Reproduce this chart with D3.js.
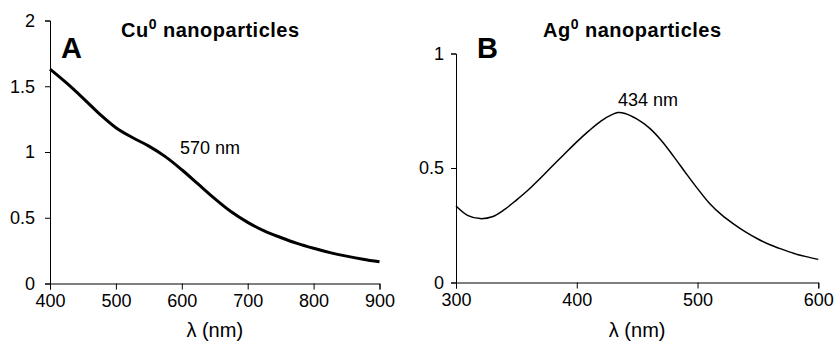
<!DOCTYPE html>
<html>
<head>
<meta charset="utf-8">
<script src="https://cdn.jsdelivr.net/npm/d3@7"></script>
<style>
  body { margin: 0; background: #fff; }
  svg text { font-family: "Liberation Sans", Arial, sans-serif; fill: #000; }
  .axis path, .axis line { stroke: #000; stroke-width: 1; }
  .axis text { font-size: 18px; }
</style>
</head>
<body>
<svg id="chart" width="834" height="343"></svg>
<script>
// Panel A: Cu0 nanoparticles, absorbance vs wavelength
const cuWavelength = [400, 425, 450, 475, 500, 525, 550, 575, 600, 625, 650, 675, 700, 725, 750, 775, 800, 825, 850, 875, 900];
const cuAbsorbance = [1.63, 1.525, 1.41, 1.29, 1.185, 1.11, 1.045, 0.965, 0.865, 0.755, 0.645, 0.545, 0.465, 0.40, 0.35, 0.305, 0.268, 0.235, 0.208, 0.185, 0.165];
const cuXTicks = [400, 500, 600, 700, 800, 900];
const cuYTicks = [0, 0.5, 1, 1.5, 2];

// Panel B: Ag0 nanoparticles
const agWavelength = [300, 310, 320, 330, 340, 350, 360, 370, 380, 390, 400, 410, 420, 430, 434, 440, 450, 460, 470, 480, 490, 500, 510, 520, 530, 540, 550, 560, 570, 580, 590, 600];
const agAbsorbance = [0.334, 0.292, 0.279, 0.287, 0.318, 0.36, 0.405, 0.456, 0.51, 0.562, 0.614, 0.662, 0.705, 0.735, 0.742, 0.738, 0.713, 0.675, 0.62, 0.552, 0.48, 0.41, 0.345, 0.295, 0.255, 0.22, 0.19, 0.165, 0.145, 0.127, 0.113, 0.101];
const agXTicks = [300, 400, 500, 600];
const agYTicks = [0, 0.5, 1];

const svg = d3.select("#chart");

function panel(opts) {
  const x = d3.scaleLinear().domain(opts.xDomain).range(opts.xRange);
  const y = d3.scaleLinear().domain(opts.yDomain).range(opts.yRange);
  const g = svg.append("g");

  g.append("g")
    .attr("class", "axis")
    .attr("transform", `translate(0, ${opts.yRange[0]})`)
    .call(d3.axisBottom(x).tickValues(opts.xTicks).tickSizeOuter(0).tickSize(6).tickPadding(5).tickFormat(d => d))
    .selectAll("text").attr("fill", "#000");

  g.append("g")
    .attr("class", "axis")
    .attr("transform", `translate(${opts.xRange[0]}, 0)`)
    .call(d3.axisLeft(y).tickValues(opts.yTicks).tickSizeOuter(0).tickSize(5).tickPadding(opts.yPad).tickFormat(d => d))
    .selectAll("text").attr("fill", "#000");

  const data = opts.xs.map((d, i) => [d, opts.ys[i]]);
  g.append("path")
    .datum(data)
    .attr("fill", "none")
    .attr("stroke", "#000")
    .attr("stroke-width", opts.lineWidth)
    .attr("stroke-linejoin", "round")
    .attr("d", d3.line().x(d => x(d[0])).y(d => y(d[1])).curve(d3.curveCatmullRom));

  // axis title
  g.append("text")
    .attr("x", (opts.xRange[0] + opts.xRange[1]) / 2)
    .attr("y", 337)
    .attr("text-anchor", "middle")
    .style("font-size", "20px")
    .text("λ (nm)");

  // panel letter
  g.append("text")
    .attr("x", opts.letterX)
    .attr("y", 58)
    .style("font-size", "29px")
    .style("font-weight", "bold")
    .text(opts.letter);

  // title with superscript
  const t = g.append("text")
    .attr("x", opts.titleX)
    .attr("y", 37)
    .style("font-size", "20px")
    .style("font-weight", "bold")
    .style("letter-spacing", "0.5px");
  t.append("tspan").text(opts.element);
  t.append("tspan").attr("dy", -8).style("font-size", "14px").text("0");
  t.append("tspan").attr("dy", 8).text(" nanoparticles");

  // peak annotation
  g.append("text")
    .attr("x", opts.noteX)
    .attr("y", opts.noteY)
    .style("font-size", "18px")
    .text(opts.note);
}

panel({
  xDomain: [400, 900], xRange: [50, 379.5],
  yDomain: [0, 2], yRange: [283.5, 20.5],
  xTicks: cuXTicks, yTicks: cuYTicks, yPad: 10,
  xs: cuWavelength, ys: cuAbsorbance, lineWidth: 3,
  letter: "A", letterX: 61, element: "Cu", titleX: 121,
  note: "570 nm", noteX: 180, noteY: 154
});

panel({
  xDomain: [300, 600], xRange: [456, 818.3],
  yDomain: [0, 1], yRange: [282.5, 53.5],
  xTicks: agXTicks, yTicks: agYTicks, yPad: 7,
  xs: agWavelength, ys: agAbsorbance, lineWidth: 1.5,
  letter: "B", letterX: 477, element: "Ag", titleX: 543,
  note: "434 nm", noteX: 618, noteY: 106
});
</script>
</body>
</html>
